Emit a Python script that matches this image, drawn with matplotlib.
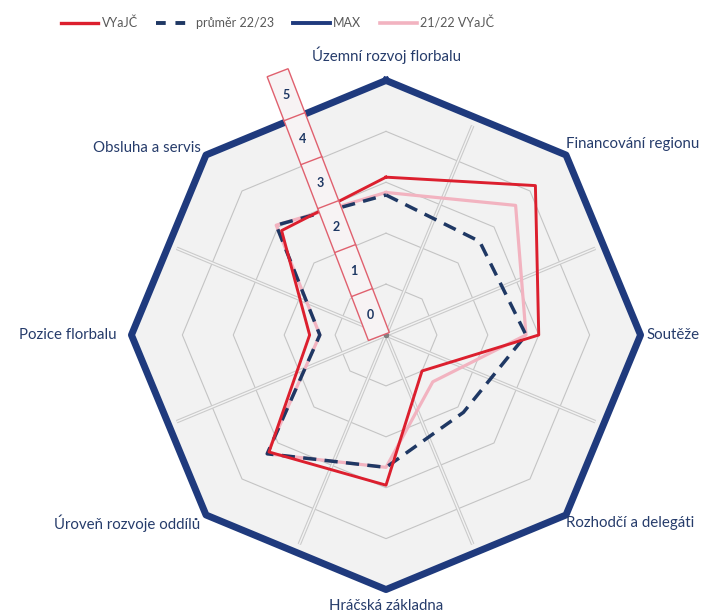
import numpy as np
import matplotlib.pyplot as plt
from matplotlib.patches import Polygon
from matplotlib.lines import Line2D

plt.rcParams['font.family'] = ['Lato', 'DejaVu Sans']

# data (scale 0-5, clockwise from top)
categories = ['Územní rozvoj florbalu', 'Financování regionu', 'Soutěže',
              'Rozhodčí a delegáti', 'Hráčská základna', 'Úroveň rozvoje oddílů',
              'Pozice florbalu', 'Obsluha a servis']
vyajc = [3.1, 4.15, 3.0, 1.0, 2.95, 3.25, 1.5, 2.9]
prumer = [2.75, 2.6, 2.75, 2.15, 2.6, 3.3, 1.3, 3.05]
max_vals = [5, 5, 5, 5, 5, 5, 5, 5]
vyajc_2122 = [2.8, 3.6, 2.75, 1.3, 2.6, 3.3, 1.3, 3.05]
scale_labels = ['0', '1', '2', '3', '4', '5']

navy = '#1f3864'
label_col = '#263c6b'
red = '#dc1f2e'
pink = '#f2b3c0'
max_col = '#1f3a7d'

n = len(categories)
angles = np.deg2rad(np.arange(n) * 360 / n)


def closed(v):
    v = np.asarray(v, dtype=float)
    return np.r_[v, v[:1]]


fig = plt.figure(figsize=(7.08, 6.15), dpi=100)
rect = [0.1497, 0.0, 0.791, 0.9106]
ax = fig.add_axes(rect, projection='polar')
ax.set_theta_zero_location('N')
ax.set_theta_direction(-1)
ax.set_ylim(0, 5.5)
ax.axis('off')

# plot area background + rings
ax.fill(closed(angles), closed(max_vals), color='#f2f2f2', zorder=0)
for r in range(1, 5):
    ax.plot(closed(angles), [r] * (n + 1), color='#c4c4c4', lw=0.8, zorder=1)

# spokes (double grey lines, offset half a step)
for a in angles + np.pi / n:
    ax.plot([a, a], [0, 4.45], color='#cbcbcb', lw=2.6, solid_capstyle='butt', zorder=2)
    ax.plot([a, a], [0, 4.45], color='#f3f3f3', lw=1.0, solid_capstyle='butt', zorder=2)

# series
ax.plot(closed(angles), closed(max_vals), color=max_col, lw=5, zorder=3)
ax.plot(closed(angles), closed(vyajc_2122), color=pink, lw=2.3, zorder=4)
ax.plot(closed(angles), closed(prumer), color=navy, lw=2.5, dashes=(3.8, 2.4), zorder=5)
ax.plot(closed(angles), closed(vyajc), color=red, lw=2.1, zorder=6)
ax.plot([0], [0], 'o', color='#808080', ms=3, zorder=7)

# category labels: (offset in points, ha, va)
label_pos = [((0, 12), 'center', 'bottom'), ((0, 8), 'left', 'center'),
             ((4, 0), 'left', 'center'), ((0, -6), 'left', 'center'),
             ((0, -7), 'center', 'top'), ((-4, -6), 'right', 'center'),
             ((-11, 0), 'right', 'center'), ((-4, 5), 'right', 'center')]
for a, lab, (off, ha, va) in zip(angles, categories, label_pos):
    ax.annotate(lab, xy=(a, 5), xytext=off, textcoords='offset points',
                ha=ha, va=va, fontsize=10.8, color=label_col, annotation_clip=False)

# overlay with the tilted scale box
ax2 = fig.add_axes(rect)
ax2.set_xlim(-5.5, 5.5)
ax2.set_ylim(-5.5, 5.5)
ax2.set_aspect('equal')
ax2.axis('off')
tilt = np.deg2rad(21)
u = np.array([-np.sin(tilt), np.cos(tilt)])
nv = np.array([np.cos(tilt), np.sin(tilt)])
b0 = np.array([-0.14, -0.03])
box_len, box_w = 5.55, 0.44
corners = [b0 - nv * box_w / 2, b0 + nv * box_w / 2,
           b0 + u * box_len + nv * box_w / 2, b0 + u * box_len - nv * box_w / 2]
ax2.add_patch(Polygon(corners, closed=True, facecolor='#f7f3f4', edgecolor='#e0606e',
                      lw=1.0, zorder=8))
for i, lab in enumerate(scale_labels):
    if i > 0:
        p = b0 + u * box_len * i / 6
        seg = np.array([p - nv * box_w / 2, p + nv * box_w / 2])
        ax2.plot(seg[:, 0], seg[:, 1], color='#e0606e', lw=1.0, zorder=9)
    c = b0 + u * box_len * (i + 0.5) / 6
    ax2.text(c[0], c[1], lab, ha='center', va='center', fontsize=9,
             fontweight='bold', color=navy, zorder=10)

# legend
handles = [Line2D([], [], color=red, lw=2.4),
           Line2D([], [], color=navy, lw=2.8, dashes=(2.5, 2.5)),
           Line2D([], [], color=max_col, lw=2.8),
           Line2D([], [], color=pink, lw=2.6)]
labels = ['VYaJČ', 'průměr 22/23', 'MAX', '21/22 VYaJČ']
fig.legend(handles, labels, loc='center', bbox_to_anchor=(0.392, 0.963), ncol=4,
           frameon=False, handlelength=3.0, columnspacing=1.45, handletextpad=0.25,
           fontsize=9, labelcolor='#595959')

fig.savefig('out.png', dpi=100)
